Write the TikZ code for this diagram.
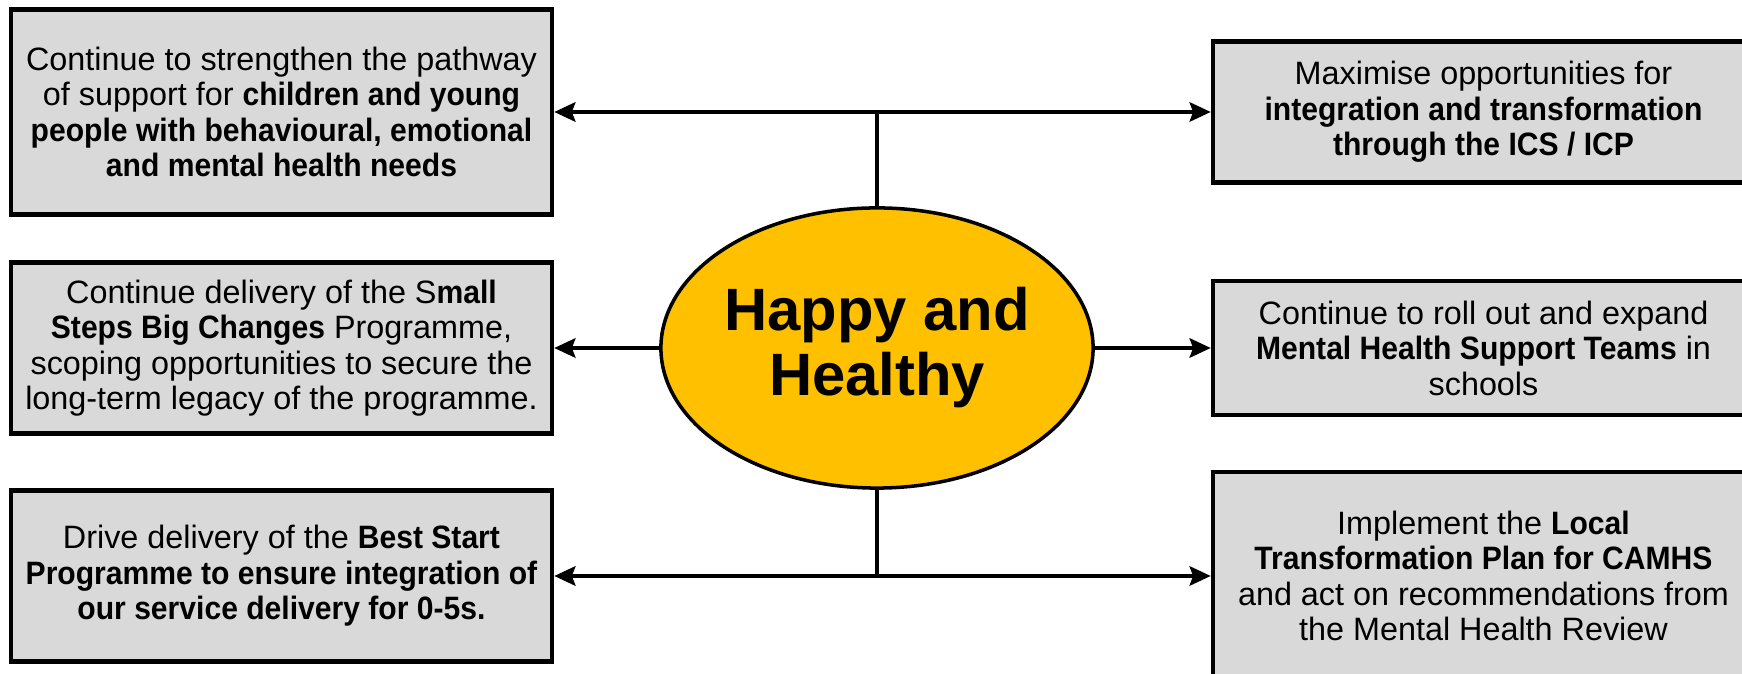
\documentclass[tikz,border=0pt]{standalone}
\usepackage{fontspec}
\setmainfont{Liberation Sans}[BoldFeatures={FakeStretch=0.93}]
\newfontfamily\hubfont{Liberation Sans}
\usetikzlibrary{shapes.geometric,arrows.meta}

\definecolor{boxgrey}{HTML}{D9D9D9}
\definecolor{hubgold}{HTML}{FFC000}
\tikzset{
  aimbox/.style={draw, line width=1.2pt, fill=boxgrey, align=center, inner sep=0pt,
    minimum width=5.41cm, font=\fontsize{9.2}{10.1}\selectfont},
  link/.style={line width=1.1pt},
  linkarrow/.style={line width=1.1pt, -{Stealth[length=6pt, width=5.5pt, inset=1pt]}}
}

\begin{document}
\begin{tikzpicture}[x=0.01cm, y=0.01cm]
  % Page frame, same proportions as the original
  \useasboundingbox (0,0) rectangle (1742,-674);
  \clip (0,0) rectangle (1742,-674);

  % Central theme
  \node[ellipse, draw, line width=1pt, fill=hubgold, minimum width=4.16cm, minimum height=2.8cm,
    align=center, inner sep=0pt, font=\hubfont\fontsize{17}{18.5}\selectfont\bfseries] (hub) at (877,-348)
    {Happy and\\Healthy};

  % Left column of aims
  \node[aimbox, minimum height=2.05cm] (aimA) at (281.5,-112)
    {Continue to strengthen the pathway\\of support for \textbf{children and young}\\
     \textbf{people with behavioural, emotional}\\\textbf{and mental health needs}};
  \node[aimbox, minimum height=1.71cm] (aimC) at (281.5,-348)
    {Continue delivery of the S\textbf{mall}\\\textbf{Steps Big Changes} Programme,\\
     scoping opportunities to secure the\\long-term legacy of the programme.};
  \node[aimbox, minimum height=1.71cm] (aimE) at (281.5,-576)
    {Drive delivery of the \textbf{Best Start}\\\textbf{Programme to ensure integration of}\\
     \textbf{our service delivery for 0-5s.}};

  % Right column of aims (run off the page edge)
  \node[aimbox, minimum height=1.41cm] (aimB) at (1483.5,-112)
    {Maximise opportunities for\\\textbf{integration and transformation}\\\textbf{through the ICS / ICP}};
  \node[aimbox, minimum height=1.34cm] (aimD) at (1483.5,-348)
    {Continue to roll out and expand\\\textbf{Mental Health Support Teams} in\\schools};
  \node[aimbox, minimum height=2.08cm] (aimF) at (1483.5,-576)
    {Implement the \textbf{Local}\\\textbf{Transformation Plan for CAMHS}\\
     and act on recommendations from\\the Mental Health Review};

  % Spine above and below the hub
  \coordinate (topjoin) at (877,-112);
  \coordinate (lowjoin) at (877,-576);
  \draw[link] (hub.north) -- (topjoin); % up to top row
  \draw[link] (hub.south) -- (lowjoin); % down to bottom row

  % Arrows out to the aims
  \draw[linkarrow] (topjoin) -- (aimA.east);
  \draw[linkarrow] (topjoin) -- (aimB.west);
  \draw[linkarrow] (hub.west) -- (aimC.east);
  \draw[linkarrow] (hub.east) -- (aimD.west);
  \draw[linkarrow] (lowjoin) -- (aimE.east);
  \draw[linkarrow] (lowjoin) -- (aimF.west);
\end{tikzpicture}
\end{document}
